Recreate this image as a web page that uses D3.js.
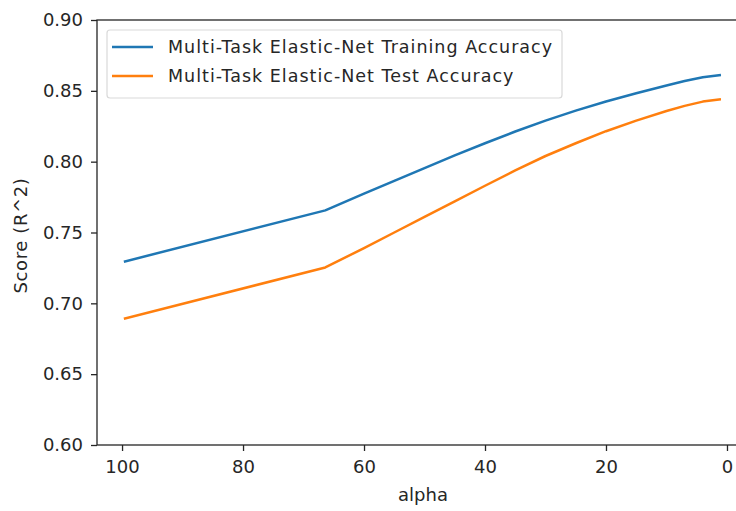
<!DOCTYPE html>
<html>
<head>
<meta charset="utf-8">
<script src="https://cdn.jsdelivr.net/npm/d3@7"></script>
<style>
  html, body { margin: 0; padding: 0; background: #fff; }
  svg { display: block; }
  text { font-family: "DejaVu Sans", sans-serif; fill: #262626; }
</style>
</head>
<body>
<svg id="chart" width="736" height="511"></svg>
<script>
const alphas   = [99.5,   66.4,   60,     55,     50,     45,     40,     35,     30,     25,     20,     15,     10,     7,      4,      2,      1.2];
const trainAcc = [0.7296, 0.7656, 0.7775, 0.7865, 0.7955, 0.8045, 0.8130, 0.8213, 0.8290, 0.8360, 0.8425, 0.8483, 0.8538, 0.8570, 0.8596, 0.8607, 0.8611];
const testAcc  = [0.6893, 0.7253, 0.7390, 0.7500, 0.7610, 0.7720, 0.7830, 0.7938, 0.8040, 0.8130, 0.8215, 0.8290, 0.8358, 0.8394, 0.8424, 0.8436, 0.8439];
const xTicks = [100, 80, 60, 40, 20, 0];
const yTicks = [0.60, 0.65, 0.70, 0.75, 0.80, 0.85, 0.90];
const seriesNames = ["Multi-Task Elastic-Net Training Accuracy", "Multi-Task Elastic-Net Test Accuracy"];
const colors = ["#1f77b4", "#ff7f0e"];

const svg = d3.select("#chart");
const L = 97, T = 20, B = 445, R = 751;
const x = d3.scaleLinear().domain([104.14, -3.97]).range([L, R]);
const y = d3.scaleLinear().domain([0.6, 0.9]).range([B, T]);

const fsTick = 18, fsLab = 18, fsLeg = 17.5;

// lines
const line = d3.line().x((d, i) => x(alphas[i])).y(d => y(d));
[trainAcc, testAcc].forEach((s, k) => {
  svg.append("path").datum(s)
    .attr("d", line)
    .attr("fill", "none")
    .attr("stroke", colors[k])
    .attr("stroke-width", 2.5)
    .attr("stroke-linejoin", "round")
    .attr("stroke-linecap", "square");
});

// axes
const xAxis = d3.axisBottom(x).tickValues(xTicks).tickFormat(d3.format("d")).tickSize(6).tickPadding(9);
const yAxis = d3.axisLeft(y).tickValues(yTicks).tickFormat(d3.format(".2f")).tickSize(6).tickPadding(8);
const gx = svg.append("g").attr("transform", `translate(0,${B})`).call(xAxis);
const gy = svg.append("g").attr("transform", `translate(${L},0)`).call(yAxis);
[gx, gy].forEach(g => {
  g.select(".domain").remove();
  g.selectAll(".tick line").attr("stroke", "#262626").attr("stroke-width", 1.3);
  g.selectAll(".tick text").attr("font-size", fsTick).style("font-family", "DejaVu Sans").attr("fill", "#262626");
});

// spines
svg.append("rect").attr("x", L).attr("y", T).attr("width", R - L).attr("height", B - T)
  .attr("fill", "none").attr("stroke", "#262626").attr("stroke-width", 1.3);

// axis labels
svg.append("text").attr("x", 423).attr("y", 501).attr("text-anchor", "middle")
  .attr("font-size", fsLab).text("alpha");
svg.append("text").attr("transform", `translate(27,${(T + B) / 2 + 3}) rotate(-90)`)
  .attr("text-anchor", "middle").attr("font-size", fsLab).attr("letter-spacing", 0.6).text("Score (R^2)");

// legend
const lg = svg.append("g");
lg.append("rect").attr("x", 107).attr("y", 30).attr("width", 455).attr("height", 68)
  .attr("rx", 3).attr("fill", "#fff").attr("fill-opacity", 0.8)
  .attr("stroke", "#d9d9d9").attr("stroke-width", 1.2);
seriesNames.forEach((n, k) => {
  const yy = 47 + k * 29;
  lg.append("line").attr("x1", 112).attr("x2", 153).attr("y1", yy).attr("y2", yy)
    .attr("stroke", colors[k]).attr("stroke-width", 2.5);
  lg.append("text").attr("x", 168).attr("y", yy).attr("dy", "0.36em")
    .attr("font-size", fsLeg).attr("letter-spacing", 1).text(n);
});
</script>
</body>
</html>
